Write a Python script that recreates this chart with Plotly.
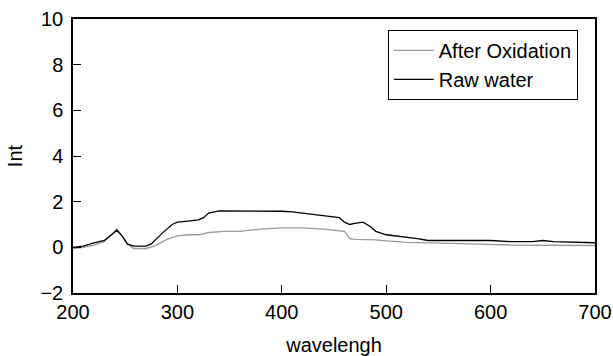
import plotly.graph_objects as go

wl_raw = [200, 210, 220, 230, 238, 242, 247, 252, 258, 270, 275, 285, 295, 300, 310, 320, 325, 330, 340,
          350, 360, 380, 400, 410, 420, 430, 440, 450, 455, 460, 465, 470, 478, 485, 490, 500, 510, 520,
          530, 540, 550, 560, 600, 620, 640, 650, 660, 700]
raw_water = [0.0, 0.05, 0.2, 0.3, 0.6, 0.75, 0.5, 0.15, 0.05, 0.05, 0.15, 0.6, 1.0, 1.1, 1.15, 1.2, 1.3, 1.5, 1.6,
             1.6, 1.58, 1.58, 1.58, 1.55, 1.5, 1.45, 1.4, 1.35, 1.3, 1.1, 1.0, 1.05, 1.1, 0.9, 0.7, 0.55, 0.5, 0.45,
             0.38, 0.3, 0.3, 0.3, 0.3, 0.25, 0.25, 0.3, 0.25, 0.2]

wl_ox = [200, 210, 220, 230, 238, 242, 247, 252, 258, 270, 278, 290, 300, 310, 320, 330, 345, 360, 370, 380,
         400, 420, 440, 450, 460, 465, 470, 490, 500, 520, 550, 580, 620, 660, 700]
after_oxidation = [-0.05, 0.0, 0.1, 0.25, 0.6, 0.8, 0.5, 0.15, -0.05, -0.05, 0.05, 0.35, 0.5, 0.55, 0.55, 0.65, 0.7,
                   0.7, 0.75, 0.8, 0.85, 0.85, 0.8, 0.75, 0.7, 0.38, 0.35, 0.33, 0.28, 0.22, 0.2, 0.15, 0.1, 0.1, 0.08]

x_ticks = [200, 300, 400, 500, 600, 700]
y_ticks = [-2, 0, 2, 4, 6, 8, 10]

font_family = "Liberation Sans, Arial, sans-serif"

fig = go.Figure()
fig.add_trace(go.Scatter(x=wl_ox, y=after_oxidation, mode="lines", name="After Oxidation",
                         line=dict(color="#999999", width=1.3)))
fig.add_trace(go.Scatter(x=wl_raw, y=raw_water, mode="lines", name="Raw water",
                         line=dict(color="#000000", width=1.3)))

axis_common = dict(showline=True, linecolor="black", linewidth=1.5, mirror=True, ticks="inside",
                   ticklen=8, tickwidth=1.2, tickcolor="black", showgrid=False, zeroline=False,
                   automargin=False,
                   tickfont=dict(size=20, color="black", family=font_family))

fig.update_layout(
    width=613, height=356,
    margin=dict(l=73, r=18, t=19, b=63),
    paper_bgcolor="white", plot_bgcolor="white",
    font=dict(family=font_family, color="black"),
    showlegend=True,
    legend=dict(x=0.603, y=0.96, xanchor="left", yanchor="top", bordercolor="black", borderwidth=1,
                bgcolor="white", itemwidth=40,
                font=dict(size=20, color="black", family=font_family)),
    xaxis=dict(range=[200, 700], tickvals=x_ticks, title=dict(text="wavelengh", font=dict(size=20), standoff=16),
               **axis_common),
    yaxis=dict(range=[-2, 10], tickvals=y_ticks, ticklabelstandoff=4,
               title=dict(text="Int", font=dict(size=20), standoff=12),
               **axis_common),
)

fig.write_html("out.html", config={"displayModeBar": False},
               post_script="document.body.style.margin='0px';document.body.style.overflow='hidden';")
